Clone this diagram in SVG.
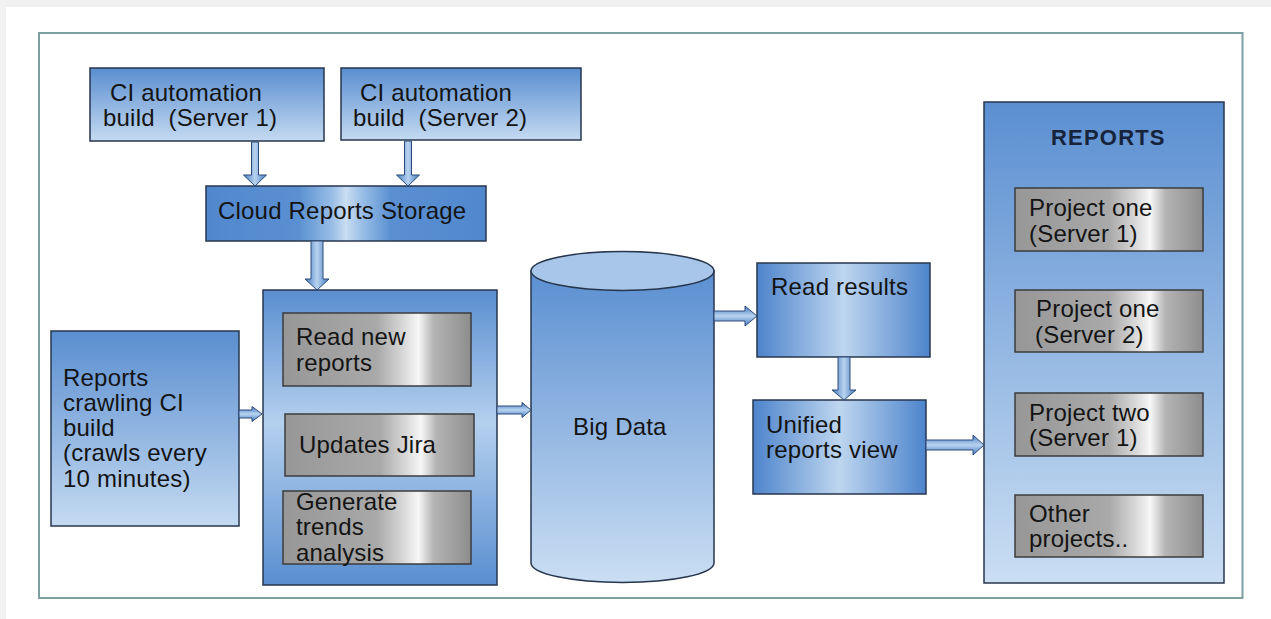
<svg xmlns="http://www.w3.org/2000/svg" width="1271" height="619" viewBox="0 0 1271 619">
<defs>
<style>
text{font-family:"Liberation Sans",Arial,sans-serif;font-size:24px;letter-spacing:0.2px;fill:#141414;white-space:pre}
.title{font-weight:bold;font-size:22px;letter-spacing:1.2px;fill:#17233a}
.box{stroke:#27364d;stroke-width:1.5}
.gray{fill:url(#gMetal);stroke:#3c3c3c;stroke-width:1.5}
.arr{stroke:#2c4a78;stroke-width:1}
</style>
<linearGradient id="gV" x1="0" y1="0" x2="0" y2="1">
<stop offset="0" stop-color="#5a8ed0"/><stop offset="1" stop-color="#c4daf1"/>
</linearGradient>
<linearGradient id="gBig" x1="0" y1="0" x2="0" y2="1">
<stop offset="0" stop-color="#5b8fd1"/><stop offset="1" stop-color="#cadef3"/>
</linearGradient>
<linearGradient id="gProc" x1="0" y1="0" x2="0" y2="1">
<stop offset="0" stop-color="#5a8ed0"/><stop offset="0.45" stop-color="#b4d0ee"/><stop offset="1" stop-color="#5a8ed0"/>
</linearGradient>
<linearGradient id="gCloud" x1="0" y1="0" x2="1" y2="0">
<stop offset="0" stop-color="#5187cd"/><stop offset="0.33" stop-color="#5a90d2"/><stop offset="0.45" stop-color="#98bde6"/><stop offset="0.5" stop-color="#c9ddf2"/><stop offset="0.56" stop-color="#98bde6"/><stop offset="0.66" stop-color="#5a90d2"/><stop offset="1" stop-color="#5187cd"/>
</linearGradient>
<linearGradient id="gMid" x1="0" y1="0" x2="1" y2="0">
<stop offset="0" stop-color="#4d84cc"/><stop offset="0.5" stop-color="#bed6ef"/><stop offset="1" stop-color="#4d84cc"/>
</linearGradient>
<linearGradient id="gMetal" x1="0" y1="0" x2="1" y2="0">
<stop offset="0" stop-color="#979797"/><stop offset="0.5" stop-color="#a9a9a9"/><stop offset="0.64" stop-color="#d8d8d8"/><stop offset="0.72" stop-color="#f7f7f7"/><stop offset="0.8" stop-color="#b4b4b4"/><stop offset="1" stop-color="#8d8d8d"/>
</linearGradient>
<linearGradient id="gArrV" x1="0" y1="0" x2="1" y2="0">
<stop offset="0" stop-color="#3f79c2"/><stop offset="0.5" stop-color="#b9d3ef"/><stop offset="1" stop-color="#3f79c2"/>
</linearGradient>
<linearGradient id="gArrH" x1="0" y1="0" x2="0" y2="1">
<stop offset="0" stop-color="#3f79c2"/><stop offset="0.5" stop-color="#b9d3ef"/><stop offset="1" stop-color="#3f79c2"/>
</linearGradient>
</defs>

<rect x="0" y="0" width="1271" height="619" fill="#ffffff"/>
<rect x="0" y="0" width="1271" height="7" fill="#f0f0f0"/>
<rect x="0" y="0" width="6" height="619" fill="#f2f2f2"/>
<rect x="39" y="33" width="1203.5" height="565" fill="none" stroke="#7d9fa3" stroke-width="2"/>

<g id="ci1">
<rect class="box" x="90" y="68" width="234" height="73" fill="url(#gV)"/>
<text x="110" y="101">CI automation</text>
<text x="103" y="126">build  (Server 1)</text>
</g>
<g id="ci2">
<rect class="box" x="341" y="68" width="240" height="72" fill="url(#gV)"/>
<text x="360" y="101">CI automation</text>
<text x="353" y="126">build  (Server 2)</text>
</g>
<g id="cloud">
<rect class="box" x="206" y="186" width="280" height="55" fill="url(#gCloud)"/>
<text x="218" y="219">Cloud Reports Storage</text>
</g>
<g id="crawler">
<rect class="box" x="51" y="331" width="188" height="195" fill="url(#gV)"/>
<text x="63" y="386">Reports</text>
<text x="63" y="411">crawling CI</text>
<text x="63" y="436">build</text>
<text x="63" y="461">(crawls every</text>
<text x="63" y="487">10 minutes)</text>
</g>
<g id="process">
<rect class="box" x="263" y="290" width="234" height="295" fill="url(#gProc)"/>
<g id="read-new">
<rect class="gray" x="283" y="313" width="188" height="73"/>
<text x="296" y="345">Read new</text>
<text x="296" y="370.5">reports</text>
</g>
<g id="jira">
<rect class="gray" x="285" y="414" width="189" height="62"/>
<text x="299" y="453">Updates Jira</text>
</g>
<g id="trends">
<rect class="gray" x="283" y="491" width="188" height="73"/>
<text x="296" y="510">Generate</text>
<text x="296" y="535">trends</text>
<text x="296" y="561">analysis</text>
</g>
</g>
<g id="bigdata">
<path class="box" d="M531,271 V563 A91.5,19.5 0 0 0 714,563 V271 Z" fill="url(#gBig)"/>
<ellipse class="box" cx="622.5" cy="271" rx="91.5" ry="19.5" fill="#a8c6e9"/>
<text x="573" y="435">Big Data</text>
</g>
<g id="read-results">
<rect class="box" x="757" y="263" width="173" height="94" fill="url(#gMid)"/>
<text x="771" y="295">Read results</text>
</g>
<g id="unified">
<rect class="box" x="753" y="400" width="173" height="94" fill="url(#gMid)"/>
<text x="766" y="433">Unified</text>
<text x="766" y="458">reports view</text>
</g>
<g id="reports">
<rect class="box" x="984" y="102" width="240" height="481" fill="url(#gBig)"/>
<text class="title" x="1051" y="145">REPORTS</text>
<g id="p1s1">
<rect class="gray" x="1015" y="188" width="188" height="63"/>
<text x="1029" y="216">Project one</text>
<text x="1029" y="242">(Server 1)</text>
</g>
<g id="p1s2">
<rect class="gray" x="1015" y="290" width="188" height="62"/>
<text x="1036" y="317">Project one</text>
<text x="1035" y="343">(Server 2)</text>
</g>
<g id="p2s1">
<rect class="gray" x="1015" y="393" width="188" height="63"/>
<text x="1029" y="421">Project two</text>
<text x="1029" y="446">(Server 1)</text>
</g>
<g id="other">
<rect class="gray" x="1015" y="495" width="188" height="62"/>
<text x="1029" y="522">Other</text>
<text x="1029" y="547">projects..</text>
</g>
</g>

<g id="connectors">
<polygon class="arr" fill="url(#gArrV)" points="251.5,142 258.5,142 258.5,175 266.5,175 255,186 243.5,175 251.5,175"/>
<polygon class="arr" fill="url(#gArrV)" points="404.5,141 411.5,141 411.5,175 419.5,175 408,186 396.5,175 404.5,175"/>
<polygon class="arr" fill="url(#gArrV)" points="311,241 323,241 323,279 329,279 317,290 305,279 311,279"/>
<polygon class="arr" fill="url(#gArrV)" points="838,357 850,357 850,390 856,390 844,400 832,390 838,390"/>
<polygon class="arr" fill="url(#gArrH)" points="239,410 252,410 252,406.5 262,414 252,421.5 252,418 239,418"/>
<polygon class="arr" fill="url(#gArrH)" points="497,406 522,406 522,402.5 531,410 522,417.5 522,414 497,414"/>
<polygon class="arr" fill="url(#gArrH)" points="714,311 745,311 745,306 757,316 745,326 745,321 714,321"/>
<polygon class="arr" fill="url(#gArrH)" points="926,440 973,440 973,435 984,445 973,455 973,450 926,450"/>
</g>
</svg>
